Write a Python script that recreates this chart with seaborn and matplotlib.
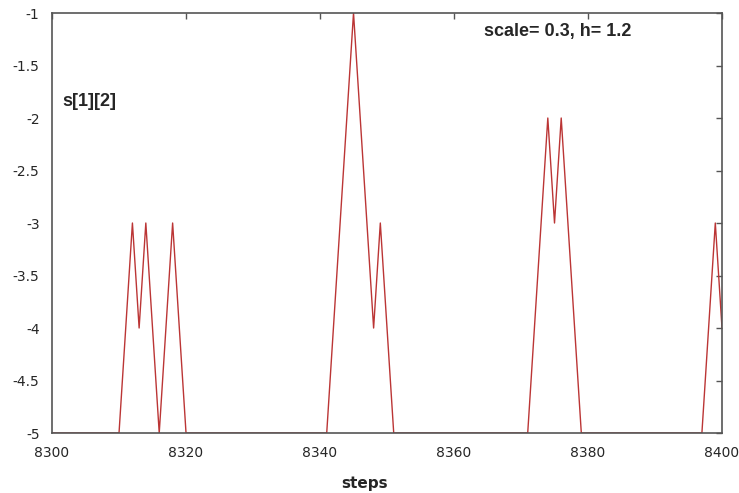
import seaborn as sns
import matplotlib.pyplot as plt
import pandas as pd

# s[1][2] per step, 8300..8400
steps = list(range(8300, 8401))
s12 = [
    -5, -5, -5, -5, -5, -5, -5, -5, -5, -5,  # 8300
    -5, -4, -3, -4, -3, -4, -5, -4, -3, -4,  # 8310
    -5, -5, -5, -5, -5, -5, -5, -5, -5, -5,  # 8320
    -5, -5, -5, -5, -5, -5, -5, -5, -5, -5,  # 8330
    -5, -5, -4, -3, -2, -1, -2, -3, -4, -3,  # 8340
    -4, -5, -5, -5, -5, -5, -5, -5, -5, -5,  # 8350
    -5, -5, -5, -5, -5, -5, -5, -5, -5, -5,  # 8360
    -5, -5, -4, -3, -2, -3, -2, -3, -4, -5,  # 8370
    -5, -5, -5, -5, -5, -5, -5, -5, -5, -5,  # 8380
    -5, -5, -5, -5, -5, -5, -5, -5, -4, -3,  # 8390
    -4,                                      # 8400
]
xticks = [8300, 8320, 8340, 8360, 8380, 8400]
yticks = [-5, -4.5, -4, -3.5, -3, -2.5, -2, -1.5, -1]

df = pd.DataFrame({"steps": steps, "s": s12})

sns.set_style("white")
plt.rcParams['font.family'] = ['DejaVu Sans']

fig = plt.figure(figsize=(7.39, 4.93), dpi=100)
ax = fig.add_axes([0.0704, 0.1217, 0.9066, 0.8519])

sns.lineplot(x="steps", y="s", data=df, ax=ax, color="#bb3535", linewidth=1.0)

ax.set_xlim(8300, 8400)
ax.set_ylim(-5, -1)
ax.set_xticks(xticks)
ax.set_yticks(yticks)
ax.set_yticklabels([f"{v:g}" for v in yticks])
ax.tick_params(direction="in", length=4, width=1, color="#555555",
               top=True, right=True, labelsize=10, pad=9)
for sp in ax.spines.values():
    sp.set_color("#555555")
    sp.set_linewidth(1.2)

ax.set_xlabel("steps", fontweight="bold", fontsize=11, va="center")
ax.xaxis.set_label_coords(0.466, -0.121)
ax.set_ylabel("")
ax.text(0.754, 0.955, "scale= 0.3, h= 1.2", transform=ax.transAxes,
        family="Liberation Sans", fontweight="bold", fontsize=13,
        ha="center", va="center")
ax.text(0.016, 0.790, "s[1][2]", transform=ax.transAxes,
        family="Liberation Sans", fontweight="bold", fontsize=13,
        ha="left", va="center")

fig.savefig("out.png", dpi=100)
